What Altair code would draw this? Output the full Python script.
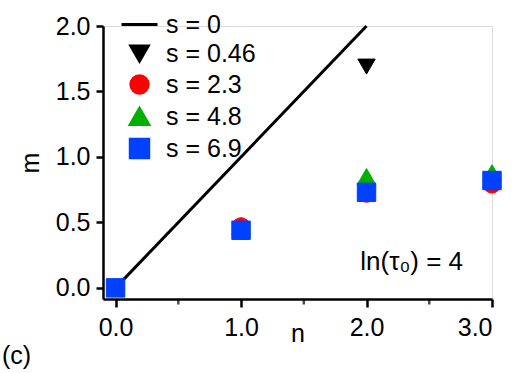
import altair as alt
import pandas as pd

# series values
n_vals = [0.0, 1.0, 2.0, 3.0]
s046 = [0.0, 0.44, 1.69, None]
s23 = [0.0, 0.47, 0.72, 0.79]
s48 = [0.0, 0.47, 0.85, 0.88]
s69 = [0.0, 0.44, 0.73, 0.82]
line_n = [0.0, 2.0]
line_m = [0.0, 2.0]
minor_n = [0.5, 1.5, 2.5]

labels = ["s = 0", "s = 0.46", "s = 2.3", "s = 4.8", "s = 6.9"]
colors = ["#000000", "#000000", "#ff0000", "#00b000", "#0040ff"]
shapes = ["stroke", "triangle-down", "circle", "triangle-up", "square"]
sizes = [1296, 300, 300, 340, 340]

rows = []
# draw order: black, green, red, blue (blue on top)
for lab, vals in [("s = 0.46", s046), ("s = 4.8", s48), ("s = 2.3", s23), ("s = 6.9", s69)]:
    for n, m in zip(n_vals, vals):
        if m is not None:
            rows.append({"n": n, "m": m, "s": lab})
pts = pd.DataFrame(rows)
pts["order"] = range(len(pts))
line_df = pd.DataFrame({"n": line_n, "m": line_m})
note_df = pd.DataFrame({"n": [2.36], "m": [0.2], "t": ["ln(τ₀) = 4"]})
minor = pd.DataFrame({"n": minor_n})

FONT = "Liberation Sans"
FS = 25
xs = alt.Scale(domain=[-0.1, 3.0], nice=False, zero=False)
ys = alt.Scale(domain=[-0.085, 2.0], nice=False, zero=False)

xaxis = alt.Axis(values=[0, 1, 2, 3], format=".1f", title="n", grid=False,
                 labelFontSize=FS, titleFontSize=FS, labelFont=FONT, titleFont=FONT,
                 titleFontWeight="normal", labelColor="black", titleColor="black",
                 domainColor="black", domainWidth=2.5, tickColor="black", tickWidth=2.5,
                 tickSize=8, labelPadding=8, titleBaseline="alphabetic", titleY=42)
yaxis = alt.Axis(values=[0, 0.5, 1.0, 1.5, 2.0], format=".1f", title="m", grid=False,
                 labelFontSize=FS, titleFontSize=FS, labelFont=FONT, titleFont=FONT,
                 titleFontWeight="normal", labelColor="black", titleColor="black",
                 domainColor="black", domainWidth=2.5, tickColor="black", tickWidth=2.5,
                 tickSize=7, labelPadding=6, titlePadding=12)

legend = alt.Legend(title=None, orient="none", legendX=17, legendY=-21,
                    labelFontSize=FS, labelFont=FONT, labelColor="black",
                    symbolStrokeWidth=3, rowPadding=2, labelOffset=7)

common = dict(
    fill=alt.Fill("s:N", scale=alt.Scale(domain=labels, range=colors), legend=legend),
    stroke=alt.Stroke("s:N", scale=alt.Scale(domain=labels, range=colors), legend=legend),
    shape=alt.Shape("s:N", scale=alt.Scale(domain=labels, range=shapes), legend=legend),
    size=alt.Size("s:N", scale=alt.Scale(type="ordinal", domain=labels, range=sizes), legend=legend),
)

points = alt.Chart(pts).mark_point(opacity=1, strokeWidth=1).encode(
    x=alt.X("n:Q", scale=xs, axis=xaxis),
    y=alt.Y("m:Q", scale=ys, axis=yaxis),
    order="order:Q",
    **common,
)

line = alt.Chart(line_df).mark_line(color="black", strokeWidth=3).encode(
    x=alt.X("n:Q", scale=xs),
    y=alt.Y("m:Q", scale=ys),
)

minor_ticks = alt.Chart(minor).mark_tick(color="black", thickness=2.5, size=5, orient="vertical").encode(
    x=alt.X("n:Q", scale=xs),
    y=alt.value(276),
)

note = alt.Chart(note_df).mark_text(font=FONT, fontSize=26, color="black").encode(
    x=alt.X("n:Q", scale=xs),
    y=alt.Y("m:Q", scale=ys),
    text="t:N",
)

chart = alt.layer(line, minor_ticks, points, note).properties(
    width=389, height=273,
    autosize=alt.AutoSizeParams(type="none"),
    padding={"left": 103, "top": 26, "right": 28, "bottom": 74},
    title=alt.TitleParams("(c)", orient="bottom", anchor="start", frame="group", font=FONT, fontSize=FS,
                          fontWeight="normal", color="black", dx=-101, offset=-2),
).configure_view(stroke=None).configure(background="white")

chart.save("out.html", embed_options={"renderer": "svg", "actions": False})
